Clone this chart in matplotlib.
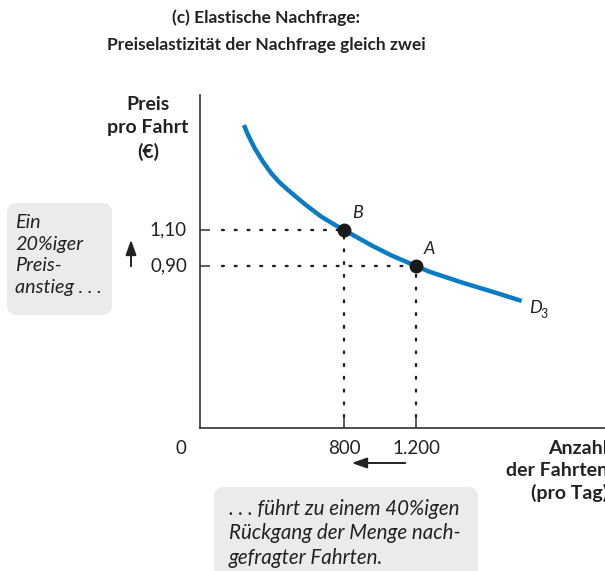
import matplotlib
matplotlib.use('Agg')
import matplotlib.pyplot as plt
from matplotlib.patches import FancyBboxPatch, FancyArrowPatch

plt.rcParams['font.family'] = ['Lato', 'DejaVu Sans']

# demand curve D3, as (rides per day, price in EUR)
curve_q = [244, 267, 304, 350, 396, 440, 489, 583, 674, 767, 800, 952, 1063, 1200, 1278,
           1463, 1648, 1787]
curve_p = [1.683, 1.628, 1.554, 1.479, 1.415, 1.366, 1.322, 1.243, 1.174, 1.118, 1.10, 1.015,
           0.959, 0.90, 0.867, 0.806, 0.750, 0.706]

# the two marked points
point_names = ['B', 'A']
point_q = [800, 1200]
point_p = [1.10, 0.90]

y_ticks = [0.90, 1.10]
y_ticklabels = ['0,90', '1,10']
x_ticks = [800, 1200]
x_ticklabels = ['800', '1.200']

W, H = 605, 571
fig = plt.figure(figsize=(W / 100, H / 100), dpi=100)

def inch(x, y):
    # pixel position measured from the top left -> inches from bottom left
    return x / 100, (H - y) / 100

tr = fig.dpi_scale_trans
ink = '#222222'

# axes: origin at pixel (200, 428), 0.18 px per ride, 180 px per euro
ax = fig.add_axes([200 / W, (H - 428) / H, (W - 200) / W, (428 - 95) / H])
ax.set_xlim(0, (W - 200) / 0.18)
ax.set_ylim(0, (428 - 95) / 180)
for s in ['top', 'right']:
    ax.spines[s].set_visible(False)
for s in ['left', 'bottom']:
    ax.spines[s].set_color('#333333')
    ax.spines[s].set_linewidth(1.2)
ax.set_xticks(x_ticks)
ax.set_xticklabels([])
ax.set_yticks(y_ticks)
ax.set_yticklabels([])
ax.tick_params(direction='in', length=7.5, width=1.1, color='#333333')

ax.plot(curve_q, curve_p, color='#0a7cc4', lw=3.2, solid_capstyle='butt',
        solid_joinstyle='round', zorder=3)

for q, p in zip(point_q, point_p):
    ax.plot([120, q], [p, p], color=ink, lw=1.7, ls=(0, (0.8, 4.6)),
            dash_capstyle='round', zorder=2)
    ax.plot([q, q], [0.06, p], color=ink, lw=1.7, ls=(0, (0.8, 4.6)),
            dash_capstyle='round', zorder=2)
ax.plot(point_q, point_p, 'o', color='#1a1a1a', ms=9, zorder=4)

for name, q, p in zip(point_names, point_q, point_p):
    ax.annotate(name, (q, p), xytext=(8, 12), textcoords='offset pixels',
                fontsize=13, style='italic', color=ink)

# curve label D3
ax.annotate('D', (curve_q[-1], curve_p[-1]), xytext=(7, -7), textcoords='offset pixels',
            fontsize=13, style='italic', color=ink, va='center')
ax.annotate('3', (curve_q[-1], curve_p[-1]), xytext=(19, -13), textcoords='offset pixels',
            fontsize=9, color=ink, va='center')

# tick labels
for v, lab in zip(y_ticks, y_ticklabels):
    ax.annotate(lab, (0, v), xytext=(-13, 0), textcoords='offset pixels',
                ha='right', va='center', fontsize=13.5, color=ink)
for v, lab in zip(x_ticks, x_ticklabels):
    ax.annotate(lab, (v, 0), xytext=(0, -21), textcoords='offset pixels',
                ha='center', va='center', fontsize=13.5, color=ink)
ax.annotate('0', (0, 0), xytext=(-19, -21), textcoords='offset pixels',
            ha='center', va='center', fontsize=13.5, color=ink)

# title
fig.text(*inch(266, 18), '(c) Elastische Nachfrage:', transform=tr, ha='center', va='center',
         fontsize=12.5, fontweight='bold', color=ink)
fig.text(*inch(266, 45), 'Preiselastizität der Nachfrage gleich zwei', transform=tr,
         ha='center', va='center', fontsize=12.5, fontweight='bold', color=ink)

# axis titles
fig.text(*inch(148, 96), 'Preis\npro Fahrt\n(€)', transform=tr, ha='center', va='top',
         fontsize=14, fontweight='bold', color=ink, linespacing=1.43)
fig.text(*inch(608, 440), 'Anzahl\nder Fahrten\n(pro Tag)', transform=tr, ha='right', va='top',
         fontsize=14, fontweight='bold', color=ink, linespacing=1.35)

# callout boxes
fig.patches.append(FancyBboxPatch(inch(15, 307), 0.89, 0.96, transform=tr,
                                  boxstyle='round,pad=0.08,rounding_size=0.1',
                                  fc='#ebebeb', ec='none'))
fig.text(*inch(15, 214), 'Ein\n20%iger\nPreis-\nanstieg . . .', transform=tr,
         ha='left', va='top', fontsize=14.2, style='italic', color=ink, linespacing=1.33)

fig.patches.append(FancyBboxPatch(inch(222, 585), 2.48, 0.9, transform=tr,
                                  boxstyle='round,pad=0.08,rounding_size=0.1',
                                  fc='#ebebeb', ec='none'))
fig.text(*inch(229, 499), '. . . führt zu einem 40%igen\nRückgang der Menge nach-\ngefragter Fahrten.',
         transform=tr, ha='left', va='top', fontsize=14.8, style='italic', color=ink,
         linespacing=1.28)

# direction arrows
fig.patches.append(FancyArrowPatch(inch(131, 269), inch(131, 237), transform=tr,
                                   arrowstyle='-|>,head_length=0.45,head_width=0.16',
                                   mutation_scale=20, color=ink, lw=1.4))
fig.patches.append(FancyArrowPatch(inch(408, 463), inch(349, 463), transform=tr,
                                   arrowstyle='-|>,head_length=0.45,head_width=0.16',
                                   mutation_scale=20, color=ink, lw=1.4))

fig.savefig('out.png', dpi=100)
